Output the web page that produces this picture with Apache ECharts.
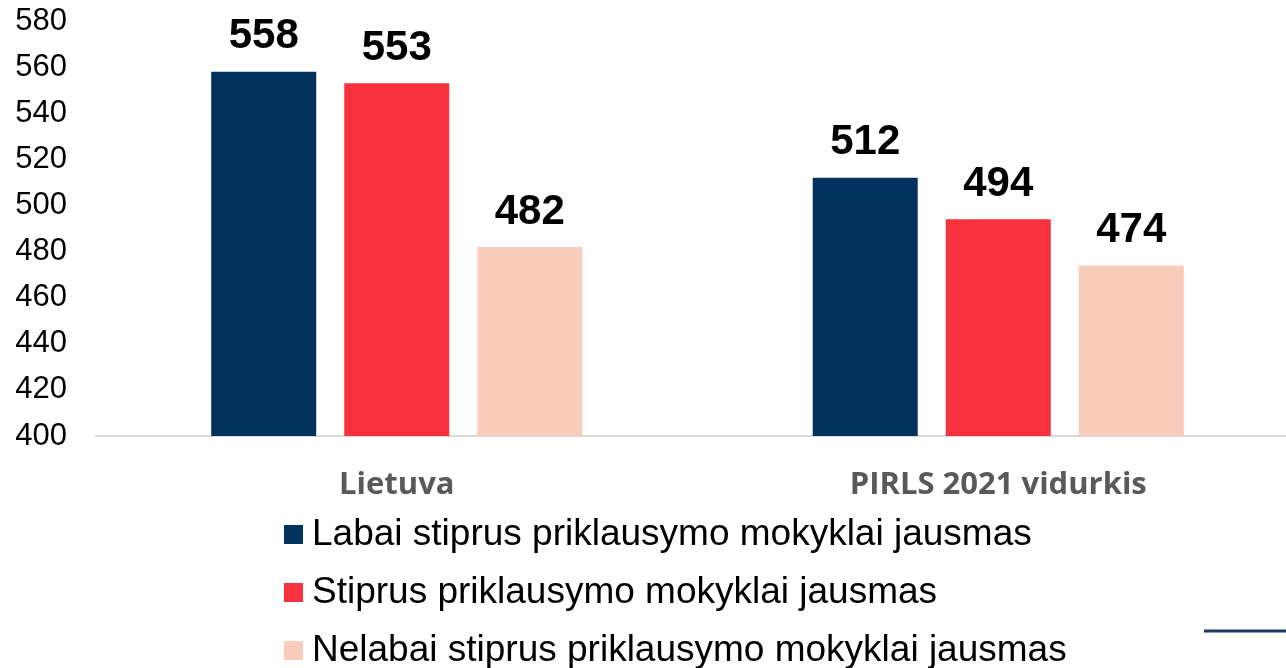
<!DOCTYPE html>
<html>
<head>
  <meta charset="utf-8" />
  <title>Priklausymo mokyklai jausmas</title>
  <script src="https://cdn.jsdelivr.net/npm/echarts@6/dist/echarts.min.js"></script>
  <style>
    html, body { margin: 0; padding: 0; background: #fff; overflow: hidden; }
    /* the plot runs a bit past the right edge of the window in the original */
    #chart { width: 1299px; height: 668px; }
  </style>
</head>
<body>
  <div id="chart"></div>
  <script>
    // grupes (x asis)
    var categories = ['Lietuva', 'PIRLS 2021 vidurkis'];
    // serijos
    var seriesNames = [
      'Labai stiprus priklausymo mokyklai jausmas',
      'Stiprus priklausymo mokyklai jausmas',
      'Nelabai stiprus priklausymo mokyklai jausmas'
    ];
    var labaiStiprus = [558, 512];
    var stiprus = [553, 494];
    var nelabaiStiprus = [482, 474];
    var colors = ['#02335F', '#F7323F', '#F8CBBA'];

    var chart = echarts.init(document.getElementById('chart'));

    function makeSeries(name, values, color) {
      return {
        name: name,
        type: 'bar',
        data: values,
        barWidth: 105,
        barGap: '26.7%',
        itemStyle: { color: color },
        label: {
          show: true,
          position: 'top',
          distance: 14,
          color: '#000',
          fontFamily: 'Liberation Sans, Arial, sans-serif',
          fontWeight: 'bold',
          fontSize: 42
        }
      };
    }

    var option = {
      animation: false,
      backgroundColor: '#fff',
      grid: { left: 96, top: 21, right: 0, height: 415, containLabel: false },
      legend: {
        orient: 'vertical',
        left: 284,
        top: 516,
        height: 220,
        padding: 0,
        icon: 'rect',
        itemWidth: 19,
        itemHeight: 19,
        itemGap: 21,
        textStyle: {
          fontFamily: 'Liberation Sans, Arial, sans-serif',
          fontSize: 37,
          lineHeight: 37,
          padding: [0, 0, 0, 4],
          color: '#000'
        },
        data: seriesNames
      },
      xAxis: {
        type: 'category',
        data: categories,
        axisTick: { show: false },
        axisLine: { lineStyle: { color: '#D9D9D9', width: 2 } },
        axisLabel: {
          margin: 34,
          color: '#595959',
          fontFamily: 'Open Sans, sans-serif',
          fontWeight: 'bold',
          fontSize: 31
        }
      },
      yAxis: {
        type: 'value',
        min: 400,
        max: 580,
        interval: 20,
        splitLine: { show: false },
        axisLine: { show: false },
        axisTick: { show: false },
        axisLabel: {
          margin: 29,
          color: '#000',
          fontFamily: 'Liberation Sans, Arial, sans-serif',
          fontSize: 31
        }
      },
      series: [
        makeSeries(seriesNames[0], labaiStiprus, colors[0]),
        makeSeries(seriesNames[1], stiprus, colors[1]),
        makeSeries(seriesNames[2], nelabaiStiprus, colors[2])
      ],
      graphic: [{
        type: 'line',
        shape: { x1: 1204, y1: 631, x2: 1286, y2: 631 },
        style: { stroke: '#1F3864', lineWidth: 3 }
      }]
    };

    chart.setOption(option);
  </script>
</body>
</html>
